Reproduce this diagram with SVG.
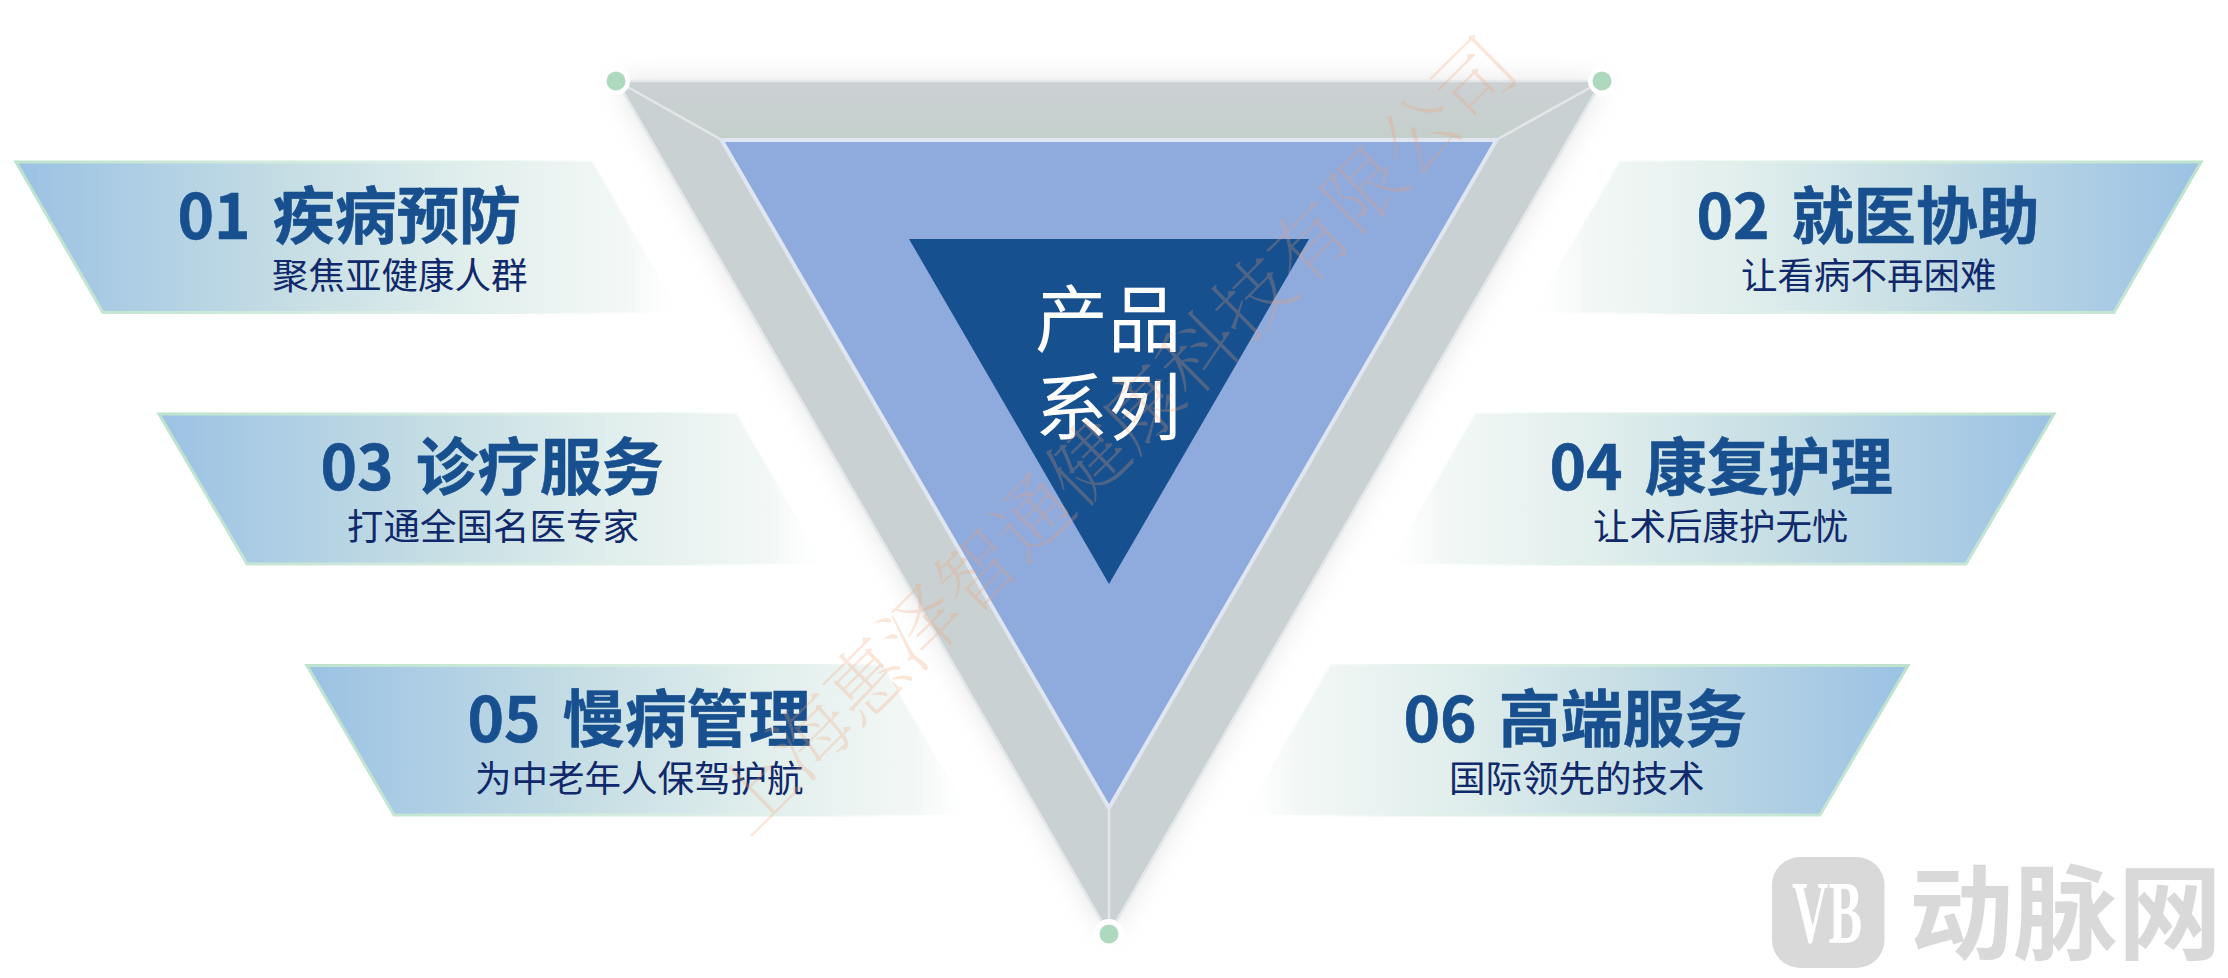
<svg xmlns="http://www.w3.org/2000/svg" width="2228" height="978" viewBox="0 0 2228 978">
<style>
text{font-family:"Noto Sans CJK SC","Microsoft YaHei",sans-serif}
.t{font-size:62px;font-weight:700;fill:#174f8f;word-spacing:8px;stroke:#174f8f;stroke-width:0.6}
.s{font-size:36.500px;fill:#10296b}
.c{font-size:73px;fill:#fff}
.pl{fill:url(#gl);stroke:url(#sl);stroke-width:3}
.pr{fill:url(#gr);stroke:url(#sr);stroke-width:3}
.edge{fill:none;stroke:#e3e7ea;stroke-width:2.500}
.facet{fill:#cad1d2}
.halo{fill:#fff}
.dot{fill:#afd9bf}
</style>
<defs>
<linearGradient id="gl" x1="0" y1="0" x2="1" y2="0"><stop offset="0.02" stop-color="#9dc3e4"/><stop offset="0.42" stop-color="#c6dee4"/><stop offset="0.7" stop-color="#e2efed"/><stop offset="0.92" stop-color="#f3f8f6"/><stop offset="1" stop-color="#fff" stop-opacity="0.4"/></linearGradient>
<linearGradient id="gr" x1="1" y1="0" x2="0" y2="0"><stop offset="0.02" stop-color="#9dc3e4"/><stop offset="0.42" stop-color="#c6dee4"/><stop offset="0.7" stop-color="#e2efed"/><stop offset="0.92" stop-color="#f3f8f6"/><stop offset="1" stop-color="#fff" stop-opacity="0.4"/></linearGradient>
<linearGradient id="sl" x1="0" y1="0" x2="1" y2="0"><stop offset="0" stop-color="#bde3cd"/><stop offset="0.75" stop-color="#e4f1ec"/><stop offset="1" stop-color="#fff" stop-opacity="0"/></linearGradient>
<linearGradient id="sr" x1="1" y1="0" x2="0" y2="0"><stop offset="0" stop-color="#bde3cd"/><stop offset="0.75" stop-color="#e4f1ec"/><stop offset="1" stop-color="#fff" stop-opacity="0"/></linearGradient>
<linearGradient id="ft" x1="0" y1="0" x2="0" y2="1"><stop offset="0" stop-color="#ccd0d4"/><stop offset="1" stop-color="#c4d0cc"/></linearGradient>
<filter id="sh" x="-10%" y="-10%" width="120%" height="120%"><feGaussianBlur stdDeviation="14"/></filter>
</defs>
<rect width="2228" height="978" fill="#fff"/>

<g id="panel-01"><polygon class="pl" points="16,162 592,162 680,312.500 103,312.500"/><text class="t" x="177.500" y="239">01 疾病预防</text><text class="s" x="272" y="289">聚焦亚健康人群</text></g>
<g id="panel-03"><polygon class="pl" points="159,414 736,414 824,564 247,564"/><text class="t" x="320.500" y="490">03 诊疗服务</text><text class="s" x="347" y="540">打通全国名医专家</text></g>
<g id="panel-05"><polygon class="pl" points="307,665.500 882,665.500 970,815 394,815"/><text class="t" x="467.500" y="742">05 慢病管理</text><text class="s" x="475" y="792">为中老年人保驾护航</text></g>
<g id="panel-02"><polygon class="pr" points="2201,162 1620,162 1532,312.500 2114,312.500"/><text class="t" x="1696.500" y="239">02 就医协助</text><text class="s" x="1741" y="289">让看病不再困难</text></g>
<g id="panel-04"><polygon class="pr" points="2054,414 1476,414 1388,564 1966,564"/><text class="t" x="1549.500" y="490">04 康复护理</text><text class="s" x="1593" y="540">让术后康护无忧</text></g>
<g id="panel-06"><polygon class="pr" points="1908,665.500 1331,665.500 1243,815 1820,815"/><text class="t" x="1403.500" y="742">06 高端服务</text><text class="s" x="1449" y="792">国际领先的技术</text></g>

<g id="funnel">
<polygon points="617,81 1602,81 1109,934" fill="#777" opacity="0.2" filter="url(#sh)"/>
<polygon points="617,81 1602,81 1498,139 720,139" fill="url(#ft)"/>
<polygon class="facet" points="617,81 720,139 1109,811 1109,934"/>
<polygon class="facet" points="1602,81 1498,139 1109,811 1109,934"/>
<polygon class="edge" points="617,81 1602,81 1109,934"/>
</g>
<g id="connectors">
<line class="edge" x1="617" y1="81" x2="720" y2="139"/>
<line class="edge" x1="1602" y1="81" x2="1498" y2="139"/>
<line class="edge" x1="1109" y1="811" x2="1109" y2="934"/>
</g>
<g id="middle-triangle"><polygon points="721.500,140 1496.500,140 1109,808" fill="#8faadc" stroke="#e0e6f1" stroke-width="4"/></g>
<g id="core-triangle"><polygon points="909,239 1309,239 1109,584" fill="#17508f"/><text class="c" x="1035" y="346">产品</text><text class="c" x="1035" y="434">系列</text></g>

<g id="vertex-left"><circle class="halo" cx="616" cy="81" r="14"/><circle class="dot" cx="616" cy="81" r="9.500"/></g>
<g id="vertex-right"><circle class="halo" cx="1602" cy="81" r="14"/><circle class="dot" cx="1602" cy="81" r="9.500"/></g>
<g id="vertex-bottom"><circle class="halo" cx="1109" cy="934" r="15"/><circle class="dot" cx="1109" cy="934" r="9.500"/></g>

<text id="watermark" transform="rotate(-44.700 1116 436)" x="1116" y="463" text-anchor="middle" style="font-family:'Noto Serif CJK SC','Liberation Serif','Noto Sans CJK SC',serif;font-size:77.800px;font-weight:200;fill:#f4a070;opacity:0.26">上海惠泽智通健康科技有限公司</text>

<g id="logo">
<rect x="1772" y="857" width="112.500" height="111" rx="28" fill="#d9d9d9"/>
<text x="1792" y="942" textLength="70" lengthAdjust="spacingAndGlyphs" style="font-family:'Liberation Serif',serif;font-size:88px;font-weight:700;fill:#fff">VB</text>
<text x="1909" y="952" textLength="313" lengthAdjust="spacingAndGlyphs" style="font-size:104px;font-weight:700;fill:#d9d9d9">动脉网</text>
</g>
</svg>
